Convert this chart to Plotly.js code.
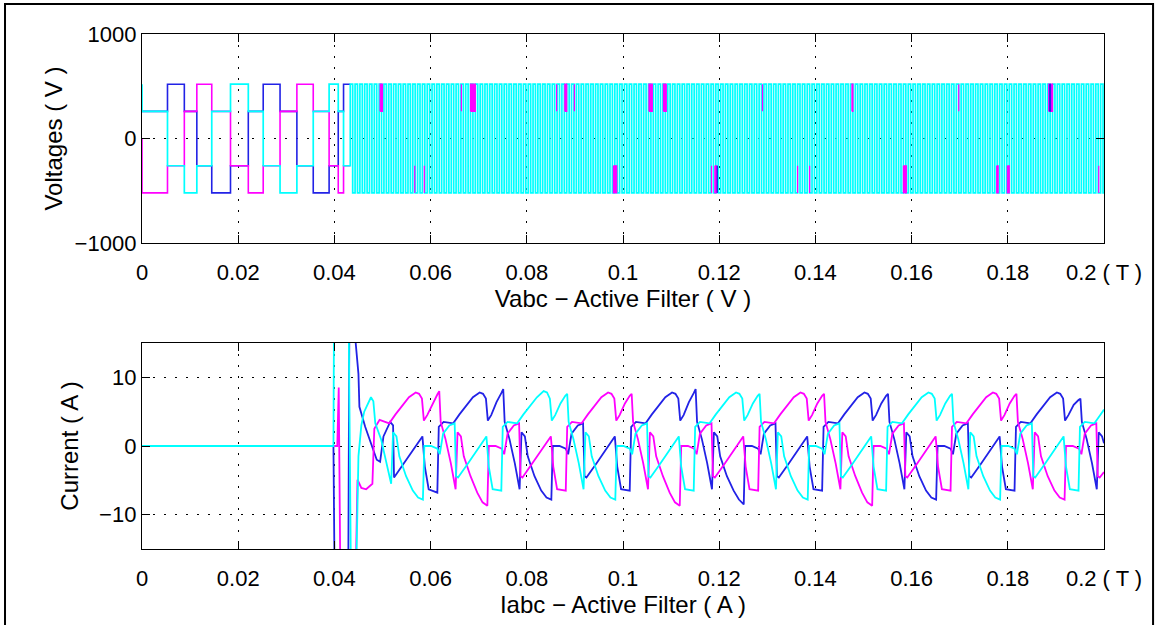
<!DOCTYPE html>
<html>
<head>
<meta charset="utf-8">
<script src="https://cdn.plot.ly/plotly-3.0.1.min.js"></script>
<style>html,body{margin:0;padding:0;background:#fff;}#chart{width:1160px;height:625px;}</style>
</head>
<body>
<div id="chart"></div>
<script>
// ---------- Upper plot: inverter phase voltages (V) ----------
// six-step section: switching instants (s) and levels of each phase
const stepT     = [0, 0, 0.0053, 0.0088, 0.0114, 0.0145, 0.0184, 0.0221, 0.0252, 0.0287, 0.0322, 0.0356, 0.0389, 0.0408, 0.0419, 0.0433];
const stepBlue  = [260, 260, 520, 260, -260, -520, -260, 260, 520, 260, -260, -520, -260, 260, 520, 520];
const stepMag   = [0, -520, -260, 260, 520, 260, -260, -520, -260, 260, 520, 260, -260, -520, -260, -260];
const stepCyan  = [520, 260, -260, -520, -260, 260, 520, 260, -260, -520, -260, 260, 520, 260, -260, -260];

// PWM section (cyan on top): rising / falling edge instants in ms
const pwmRiseMs = [43.3,44.3,45.3,46.3,47.3,48.3,49.3,50.3,51.3,52.3,53.3,54.3,55.3,56.3,57.3,58.3,59.3,60.3,61.3,62.3,63.3,64.3,65.3,66.3,67.3,68.3,69.3,70.3,71.3,72.3,73.3,74.3,75.3,76.3,77.3,78.3,79.3,80.3,81.3,82.3,83.3,84.3,85.3,86.3,87.3,88.3,89.3,90.3,91.3,92.3,93.3,94.3,95.3,96.3,97.3,98.3,99.3,100.3,101.3,102.3,103.3,104.3,105.3,106.3,107.3,108.3,109.3,110.3,111.3,112.3,113.3,114.3,115.3,116.3,117.3,118.3,119.3,120.3,121.3,122.3,123.3,124.3,125.3,126.3,127.3,128.3,129.3,130.3,131.3,132.3,133.3,134.3,135.3,136.3,137.3,138.3,139.3,140.3,141.3,142.3,143.3,144.3,145.3,146.3,147.3,148.3,149.3,150.3,151.3,152.3,153.3,154.3,155.3,156.3,157.3,158.3,159.3,160.3,161.3,162.3,163.3,164.3,165.3,166.3,167.3,168.3,169.3,170.3,171.3,172.3,173.3,174.3,175.3,176.3,177.3,178.3,179.3,180.3,181.3,182.3,183.3,184.3,185.3,186.3,187.3,188.3,189.3,190.3,191.3,192.3,193.3,194.3,195.3,196.3,197.3,198.3,199.3];
const pwmFallMs = [43.8,44.8,45.8,46.8,47.8,48.8,49.8,50.8,51.8,52.8,53.8,54.8,55.8,56.8,57.8,58.8,59.8,60.8,61.8,62.8,63.8,64.8,65.8,66.8,67.8,68.8,69.8,70.8,71.8,72.8,73.8,74.8,75.8,76.8,77.8,78.8,79.8,80.8,81.8,82.8,83.8,84.8,85.8,86.8,87.8,88.8,89.8,90.8,91.8,92.8,93.8,94.8,95.8,96.8,97.8,98.8,99.8,100.8,101.8,102.8,103.8,104.8,105.8,106.8,107.8,108.8,109.8,110.8,111.8,112.8,113.8,114.8,115.8,116.8,117.8,118.8,119.8,120.8,121.8,122.8,123.8,124.8,125.8,126.8,127.8,128.8,129.8,130.8,131.8,132.8,133.8,134.8,135.8,136.8,137.8,138.8,139.8,140.8,141.8,142.8,143.8,144.8,145.8,146.8,147.8,148.8,149.8,150.8,151.8,152.8,153.8,154.8,155.8,156.8,157.8,158.8,159.8,160.8,161.8,162.8,163.8,164.8,165.8,166.8,167.8,168.8,169.8,170.8,171.8,172.8,173.8,174.8,175.8,176.8,177.8,178.8,179.8,180.8,181.8,182.8,183.8,184.8,185.8,186.8,187.8,188.8,189.8,190.8,191.8,192.8,193.8,194.8,195.8,196.8,197.8,198.8,199.8];
const pwmHigh = [520];
const pwmLow  = [-520];

// magenta / blue pulses that show through the cyan PWM (start, end in s; side +1 upper band, -1 lower band)
const magStart = [0.0495,0.0664,0.0683,0.0862,0.0879,0.0899,0.1054,0.1084,0.1290,0.1476,0.1698,0.1885,0.0567,0.0587,0.0980,0.1184,0.1191,0.1363,0.1388,0.1583,0.1777,0.1799,0.1989];
const magEnd   = [0.0500,0.0665,0.0693,0.0863,0.0883,0.0900,0.1061,0.1090,0.1291,0.1478,0.1699,0.1893,0.0568,0.0588,0.0987,0.1185,0.1194,0.1364,0.1389,0.1589,0.1780,0.1803,0.1990];
const magSide  = [1,1,1,1,1,1,1,1,1,1,1,1,-1,-1,-1,-1,-1,-1,-1,-1,-1,-1,-1];
const blueStart = [0.1196,0.1887];
const blueEnd   = [0.1197,0.1889];
const blueSide  = [-1,1];
const bandInner = [260];
const bandOuter = [520];

// ---------- Lower plot: active filter currents (A), time in ms ----------
const iBlueT = [0,39.8,40.0,42.9,43.1,44.3,45.0,45.2,46.4,47.8,48.8,49.5,50.2,51.6,52.2,52.4,54.5,56.5,58.3,58.8,59.6,61.4,61.7,
62.7,64.7,66.0,67.4,68.8,70.2,70.9,71.5,71.9,72.6,73.7,74.7,75.1,75.4,76.4,77.5,78.5,78.9,79.6,80.2,81.6,83.0,84.1,85.1,85.4,86.8,88.1,88.6,89.3,90.6,91.7,92.0,92.4,94.5,96.5,98.3,98.8,99.6,101.4,101.7,
102.7,104.7,106.0,107.4,108.8,110.2,110.9,111.5,111.9,112.6,113.7,114.7,115.1,115.4,116.4,117.5,118.5,118.9,119.6,120.2,121.6,123.0,124.1,125.1,125.4,126.8,128.1,128.6,129.3,130.6,131.7,132.0,132.4,134.5,136.5,138.3,138.8,139.6,141.4,141.7,
142.7,144.7,146.0,147.4,148.8,150.2,150.9,151.5,151.9,152.6,153.7,154.7,155.1,155.4,156.4,157.5,158.5,158.9,159.6,160.2,161.6,163.0,164.1,165.1,165.4,166.8,168.1,168.6,169.3,170.6,171.7,172.0,172.4,174.5,176.5,178.3,178.8,179.6,181.4,181.7,
182.7,184.7,186.0,187.4,188.8,190.2,190.9,191.5,191.9,192.6,193.7,194.7,195.1,195.4,196.4,197.5,198.5,198.9,199.6,200.0];
const iBlue = [0,0,-16,-16,16,16,10.5,5.7,2.8,0.0,-2.0,-2.3,1.4,3.5,3.0,-4.6,-2.5,-0.4,1.4,-3.0,-6.3,-6.8,2.8,
3.5,3.3,4.6,5.9,7.1,7.8,7.6,6.9,3.7,4.5,6.4,7.7,8.3,3.5,1.0,-2.5,-6.3,2.0,1.4,-1.5,-4.4,-6.5,-7.5,-7.8,0.0,0.0,-0.4,-1.2,1.8,3.0,3.3,-4.4,-4.6,-2.5,-0.4,1.4,-3.0,-6.3,-6.5,2.8,
3.5,3.3,4.6,5.9,7.1,7.8,7.6,6.9,3.7,4.5,6.4,7.7,8.3,3.5,1.0,-2.5,-6.3,2.0,1.4,-1.5,-4.4,-6.5,-7.8,-8.5,0.0,0.0,-0.4,-1.2,1.8,3.0,3.3,-4.4,-4.6,-2.5,-0.4,1.4,-3.0,-6.3,-6.5,2.8,
3.5,3.3,4.6,5.9,7.1,7.8,7.6,6.9,3.7,4.5,6.2,7.3,7.6,3.5,1.0,-2.5,-6.3,2.0,1.4,-1.5,-4.4,-6.5,-7.5,-7.8,0.0,0.0,-0.4,-1.2,1.8,3.0,3.3,-4.4,-4.6,-2.5,-0.4,1.4,-3.0,-6.3,-6.5,2.8,
3.5,3.3,4.6,5.9,7.1,7.8,7.6,6.9,3.7,4.5,6.0,6.7,6.9,3.5,1.0,-2.5,-6.3,2.0,1.4,0.4];

const iMagT = [0,40.6,40.9,41.2,44.5,44.8,45.6,46.6,47.9,48.3,49.4,
51.4,52.7,54.1,55.5,56.9,57.6,58.2,58.6,59.3,60.4,61.4,61.8,62.1,63.1,64.2,65.2,65.6,66.3,66.9,68.3,69.7,70.8,71.8,72.1,73.5,74.8,75.3,76.0,77.3,78.4,78.7,79.1,81.2,83.2,85.0,85.5,86.3,88.1,88.4,
89.4,91.4,92.7,94.1,95.5,96.9,97.6,98.2,98.6,99.3,100.4,101.4,101.8,102.1,103.1,104.2,105.2,105.6,106.3,106.9,108.3,109.7,110.8,111.8,112.1,113.5,114.8,115.3,116.0,117.3,118.4,118.7,119.1,121.2,123.2,125.0,125.5,126.3,128.1,128.4,
129.4,131.4,132.7,134.1,135.5,136.9,137.6,138.2,138.6,139.3,140.4,141.4,141.8,142.1,143.1,144.2,145.2,145.6,146.3,146.9,148.3,149.7,150.8,151.8,152.1,153.5,154.8,155.3,156.0,157.3,158.4,158.7,159.1,161.2,163.2,165.0,165.5,166.3,168.1,168.4,
169.4,171.4,172.7,174.1,175.5,176.9,177.6,178.2,178.6,179.3,180.4,181.4,181.8,182.1,183.1,184.2,185.2,185.6,186.3,186.9,188.3,189.7,190.8,191.8,192.1,193.5,194.8,195.3,196.0,197.3,198.4,198.7,199.1,200.0];
const iMag = [0,0,8.5,-16,-16,-4.9,-6.1,-6.3,-5.5,2.5,3.8,
3.3,4.6,5.9,7.1,7.8,7.6,6.9,3.7,4.5,6.2,7.5,8.0,3.5,1.0,-2.5,-6.3,2.0,1.4,-1.5,-4.4,-6.8,-8.2,-8.7,0.0,0.0,-0.4,-1.2,1.8,3.0,3.3,-4.4,-4.6,-2.5,-0.4,1.4,-3.0,-6.3,-6.5,2.8,
3.5,3.3,4.6,5.9,7.1,7.8,7.6,6.9,3.7,4.5,6.2,7.3,7.6,3.5,1.0,-2.5,-6.3,2.0,1.4,-1.5,-4.4,-6.8,-8.2,-8.7,0.0,0.0,-0.4,-1.2,1.8,3.0,3.3,-4.4,-4.6,-2.5,-0.4,1.4,-3.0,-6.3,-6.5,2.8,
3.5,3.3,4.6,5.9,7.1,7.8,7.6,6.9,3.7,4.5,6.2,7.3,7.6,3.5,1.0,-2.5,-6.3,2.0,1.4,-1.5,-4.4,-6.8,-8.2,-8.7,0.0,0.0,-0.4,-1.2,1.8,3.0,3.3,-4.4,-4.6,-2.5,-0.4,1.4,-3.0,-6.3,-6.5,2.8,
3.5,3.3,4.6,5.9,7.1,7.8,7.6,6.9,3.7,4.5,6.2,7.3,7.6,3.5,1.0,-2.5,-6.3,2.0,1.4,-1.5,-4.4,-6.5,-7.5,-7.8,0.0,0.0,-0.4,-1.2,1.8,3.0,3.3,-4.4,-4.6,-3.8];

const iCyanT = [0,39.8,39.9,43.0,43.4,44.6,45.0,45.6,46.2,47.6,48.1,48.5,49.7,50.8,51.8,52.2,52.9,53.5,54.9,56.3,57.4,58.4,58.7,60.1,61.4,61.9,62.6,63.9,65.0,65.3,65.7,67.8,69.8,71.6,72.1,72.9,74.7,75.0,
76.0,78.0,79.3,80.7,82.1,83.5,84.2,84.8,85.2,85.9,87.0,88.0,88.4,88.7,89.7,90.8,91.8,92.2,92.9,93.5,94.9,96.3,97.4,98.4,98.7,100.1,101.4,101.9,102.6,103.9,105.0,105.3,105.7,107.8,109.8,111.6,112.1,112.9,114.7,115.0,
116.0,118.0,119.3,120.7,122.1,123.5,124.2,124.8,125.2,125.9,127.0,128.0,128.4,128.7,129.7,130.8,131.8,132.2,132.9,133.5,134.9,136.3,137.4,138.4,138.7,140.1,141.4,141.9,142.6,143.9,145.0,145.3,145.7,147.8,149.8,151.6,152.1,152.9,154.7,155.0,
156.0,158.0,159.3,160.7,162.1,163.5,164.2,164.8,165.2,165.9,167.0,168.0,168.4,168.7,169.7,170.8,171.8,172.2,172.9,173.5,174.9,176.3,177.4,178.4,178.7,180.1,181.4,181.9,182.6,183.9,185.0,185.3,185.7,187.8,189.8,191.6,192.1,192.9,194.7,195.0,
196.0,198.0,199.3,200.0];
const iCyan = [0,0,16,16,-16,-16,-1.5,3.0,5.0,7.1,6.5,3.3,1.0,-2.5,-5.5,2.0,1.4,-1.5,-4.4,-6.5,-7.5,-7.8,0.0,0.0,-0.4,-1.2,1.8,3.0,3.3,-4.4,-4.6,-2.5,-0.4,1.4,-3.0,-6.3,-6.5,2.8,
3.5,3.3,4.6,5.9,7.1,8.0,7.8,6.9,3.7,4.5,6.2,7.3,7.6,3.5,1.0,-2.5,-6.3,2.0,1.4,-1.5,-4.4,-6.5,-7.5,-7.8,0.0,0.0,-0.4,-1.2,1.8,3.0,3.3,-4.4,-4.6,-2.5,-0.4,1.4,-3.0,-6.3,-6.5,2.8,
3.5,3.3,4.6,5.9,7.1,7.8,7.6,6.9,3.7,4.5,6.2,7.3,7.6,3.5,1.0,-2.5,-6.3,2.0,1.4,-1.5,-4.4,-6.5,-7.5,-7.8,0.0,0.0,-0.4,-1.2,1.8,3.0,3.3,-4.4,-4.6,-2.5,-0.4,1.4,-3.0,-6.3,-6.5,2.8,
3.5,3.3,4.6,5.9,7.1,7.8,7.6,6.9,3.7,4.5,6.2,7.3,7.6,3.5,1.0,-2.5,-6.3,2.0,1.4,-1.5,-4.4,-6.5,-7.5,-7.8,0.0,0.0,-0.4,-1.2,1.8,3.0,3.3,-4.4,-4.6,-2.5,-0.4,1.4,-3.0,-6.3,-6.5,2.8,
3.5,3.3,4.6,5.3];

// ---------- axis ticks ----------
const xTickVals = [0,0.02,0.04,0.06,0.08,0.1,0.12,0.14,0.16,0.18,0.2];
const xTickText = ['0','0.02','0.04','0.06','0.08','0.1','0.12','0.14','0.16','0.18','0.2 ( T )'];
const vTickVals = [-1000,0,1000];
const iTickVals = [-10,0,10];

// ---------- build ----------
const BLUE = '#2222e6', MAG = '#ff00ff', CYAN = '#00ffff';
const ms = a => a.map(v => v / 1000);

const cyanX = stepT.slice(), cyanY = stepCyan.slice();
for (let i = 0; i < pwmRiseMs.length; i++) {
  cyanX.push(pwmRiseMs[i] / 1000, pwmFallMs[i] / 1000);
  cyanY.push(pwmHigh[0], pwmLow[0]);
}
cyanX.push(0.2); cyanY.push(pwmLow[0]);

function pulses(starts, ends, sides) {
  const x = [], y = [];
  for (let i = 0; i < starts.length; i++) {
    const a = sides[i] * bandInner[0], b = sides[i] * bandOuter[0];
    x.push(starts[i], starts[i], ends[i], ends[i], starts[i], null);
    y.push(a, b, b, a, a, null);
  }
  return {x, y};
}
const mp = pulses(magStart, magEnd, magSide);
const bp = pulses(blueStart, blueEnd, blueSide);

const traces = [
  {x: stepT, y: stepBlue, mode: 'lines', line: {shape: 'hv', color: BLUE, width: 1.6}, xaxis: 'x', yaxis: 'y'},
  {x: stepT, y: stepMag, mode: 'lines', line: {shape: 'hv', color: MAG, width: 1.6}, xaxis: 'x', yaxis: 'y'},
  {x: cyanX, y: cyanY, mode: 'lines', line: {shape: 'hv', color: CYAN, width: 1.7}, xaxis: 'x', yaxis: 'y'},
  {x: mp.x, y: mp.y, mode: 'lines', fill: 'toself', fillcolor: MAG, line: {color: MAG, width: 1.2}, xaxis: 'x', yaxis: 'y'},
  {x: bp.x, y: bp.y, mode: 'lines', fill: 'toself', fillcolor: BLUE, line: {color: BLUE, width: 1}, xaxis: 'x', yaxis: 'y'},
  {x: ms(iBlueT), y: iBlue, mode: 'lines', line: {color: BLUE, width: 1.8}, xaxis: 'x2', yaxis: 'y2'},
  {x: ms(iMagT), y: iMag, mode: 'lines', line: {color: MAG, width: 1.8}, xaxis: 'x2', yaxis: 'y2'},
  {x: ms(iCyanT), y: iCyan, mode: 'lines', line: {color: CYAN, width: 1.8}, xaxis: 'x2', yaxis: 'y2'}
];
traces.forEach(t => { t.hoverinfo = 'skip'; t.showlegend = false; });

const FONT = 'Liberation Sans, Arial, Helvetica, sans-serif';
const tickFont = {family: FONT, size: 22, color: '#000'};
const titleFont = {family: FONT, size: 24, color: '#000'};
const common = {
  ticks: 'inside', ticklen: 8, tickwidth: 1, tickcolor: '#000',
  showline: true, linecolor: '#000', linewidth: 1.2, mirror: 'allticks',
  showgrid: true, gridcolor: '#000', gridwidth: 1, griddash: '2px,9px',
  zeroline: false, tickfont: tickFont, fixedrange: true
};
const xCommon = Object.assign({}, common, {range: [0, 0.2], tickmode: 'array', tickvals: xTickVals, ticktext: xTickText, ticklabelstandoff: 9});

const layout = {
  width: 1160, height: 625,
  paper_bgcolor: '#fff', plot_bgcolor: '#fff',
  margin: {l: 142, r: 56, t: 34, b: 76, pad: 0},
  showlegend: false,
  xaxis: Object.assign({}, xCommon, {anchor: 'y', domain: [0, 1],
    title: {text: 'Vabc \u2212 Active Filter ( V )', font: titleFont, standoff: 3}}),
  yaxis: Object.assign({}, common, {anchor: 'x', domain: [0.594, 1], range: [-1000, 1000], tickmode: 'array', tickvals: vTickVals,
    title: {text: 'Voltages ( V )', font: titleFont, standoff: 5}}),
  xaxis2: Object.assign({}, xCommon, {anchor: 'y2', domain: [0, 1],
    title: {text: 'Iabc \u2212 Active Filter ( A )', font: titleFont, standoff: 3}}),
  yaxis2: Object.assign({}, common, {anchor: 'x2', domain: [0, 0.4], range: [-15, 15], tickmode: 'array', tickvals: iTickVals,
    title: {text: 'Current ( A )', font: titleFont, standoff: 13}}),
  shapes: [{type: 'rect', xref: 'paper', yref: 'paper', x0: -0.1424, x1: 1.051, y0: -0.2, y1: 1.0583,
    line: {color: '#000', width: 2}, fillcolor: 'rgba(0,0,0,0)', layer: 'above'}]
};

Plotly.newPlot('chart', traces, layout, {staticPlot: true, displayModeBar: false});
</script>
</body>
</html>
